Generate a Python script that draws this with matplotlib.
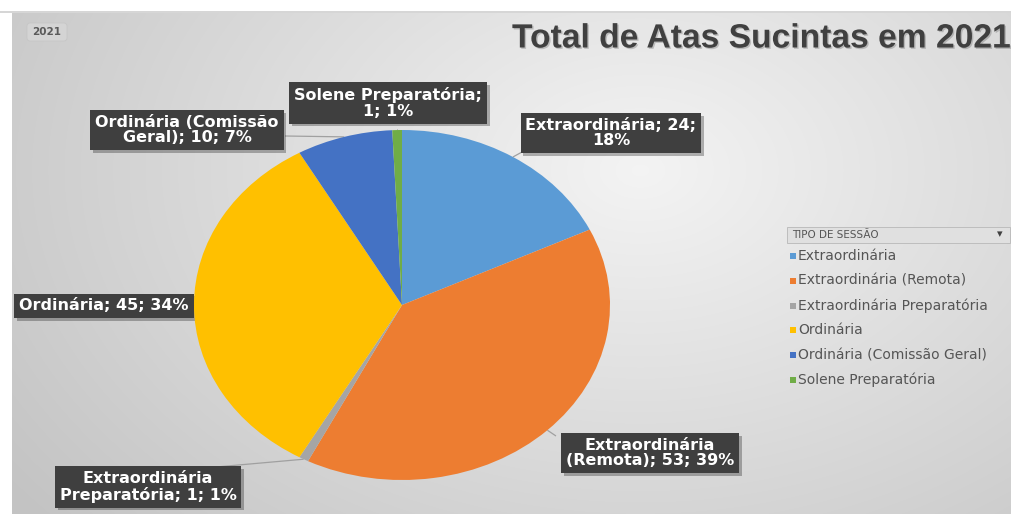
#!/usr/bin/env python3
# =============================================================================
# atas_sucintas_2021.py
# Pie chart (Excel look): total of "Atas Sucintas" in 2021 by session type
# =============================================================================

import numpy as np
import matplotlib.pyplot as plt
import matplotlib.patheffects as pe
from matplotlib.patches import Rectangle, FancyBboxPatch

plt.rcParams.update({
    "font.family": ["DejaVu Sans"],
})

#* ────────── DATA ────────────────────────────────────────────────────────────
session_types = [
    "Extraordinária",
    "Extraordinária (Remota)",
    "Extraordinária Preparatória",
    "Ordinária",
    "Ordinária (Comissão Geral)",
    "Solene Preparatória",
]
session_counts = [24, 53, 1, 45, 10, 1]
session_pcts   = [18, 39, 1, 34, 7, 1]        # as printed on the labels
legend_title   = "TIPO DE SESSÃO"
chart_title    = "Total de Atas Sucintas em 2021"
filter_button  = "2021"

#* ────────── STYLE / LAYOUT (pixels, origin top-left) ────────────────────────
W, H       = 1012, 514
COLORS     = ["#5B9BD5", "#ED7D31", "#A5A5A5", "#FFC000", "#4472C4", "#70AD47"]
PIE_CX, PIE_CY = 402, 305
PIE_RX, PIE_RY = 208, 175
# label box centre, leader anchor on the box, where to break the text
label_pos    = [(611, 133), (650, 453), (148, 487), (104, 306), (187, 130), (388, 103)]
label_anchor = [(522, 152), (556, 436), (216, 467), (197, 306), (285, 136), (398, 130)]
label_break  = [-1, 0, 0, None, 1, 1]
LABEL_BG   = "#3f3f3f"
TEXT_GRAY  = "#555555"


def wrap_label(text, idx):
    if idx is None:
        return text
    parts = text.split(" ")
    cut = idx if idx >= 0 else len(parts) - 1 + idx
    return " ".join(parts[:cut + 1]) + "\n" + " ".join(parts[cut + 1:])


def fx(px):
    return px / W


def fy(py):
    return 1 - py / H


# ────────── FIGURE + BACKGROUND ─────────────────────────────────────────────
fig = plt.figure(figsize=(W / 100, H / 100), dpi=100)
fig.patch.set_facecolor("white")

bg = fig.add_axes([0, 0, 1, 1])
bg.axis("off")

yy, xx = np.mgrid[12:H, 12:W]
d = np.sqrt(((xx - 640) / 620.0) ** 2 + ((yy - 170) / 430.0) ** 2)
shade = 0.955 - 0.15 * np.clip(d, 0, 1.25)
bg.imshow(np.dstack([shade] * 3), extent=(12, W, H, 12), aspect="auto",
          interpolation="bilinear", zorder=0)
bg.set_xlim(0, W)
bg.set_ylim(H, 0)
bg.add_patch(Rectangle((0, 11), W, 2, color="#d6d6d6", lw=0, zorder=2))

# filter button "2021"
bg.add_patch(FancyBboxPatch((27, 23), 40, 18, boxstyle="round,pad=0,rounding_size=3",
                            fc="#d4d4d4", ec="#c6c6c6", lw=0.6, zorder=2))
bg.text(47, 32, filter_button, fontsize=7.5, fontweight="bold", ha="center",
        va="center", color="#5a5a5a", zorder=3)

# title
bg.text(512, 39, chart_title, fontsize=24.2, fontweight="bold", ha="left",
        va="center", color="#404040", family=["Liberation Sans", "DejaVu Sans"],
        zorder=3,
        path_effects=[pe.SimplePatchShadow(offset=(1, -1), alpha=0.2), pe.Normal()])

# ────────── PIE ─────────────────────────────────────────────────────────────
ax = fig.add_axes([fx(PIE_CX - PIE_RX), fy(PIE_CY + PIE_RY),
                   2 * PIE_RX / W, 2 * PIE_RY / H])
ax.pie(session_counts, colors=COLORS, startangle=90, counterclock=False,
       radius=1, wedgeprops=dict(linewidth=0))
ax.set_aspect("auto")
ax.set_xlim(-1, 1)
ax.set_ylim(-1, 1)
ax.axis("off")

# ────────── DATA LABELS + LEADER LINES ──────────────────────────────────────
total = sum(session_counts)
cum = np.cumsum([0] + session_counts[:-1])
for i, (name, val, pct) in enumerate(zip(session_types, session_counts, session_pcts)):
    mid = np.deg2rad(90 - 360 * (cum[i] + val / 2) / total)
    ex = PIE_CX + PIE_RX * np.cos(mid)
    ey = PIE_CY - PIE_RY * np.sin(mid)
    ax_, ay_ = label_anchor[i]
    bg.plot([ex, ax_], [ey, ay_], color="#a0a0a0", lw=0.9, zorder=4,
            solid_capstyle="butt")

    txt = wrap_label(f"{name}; {val}; {pct}%", label_break[i])
    t = bg.text(*label_pos[i], txt, fontsize=11.5, fontweight="bold", color="white",
                ha="center", va="center", linespacing=1.05, zorder=5,
                bbox=dict(boxstyle="square,pad=0.3", fc=LABEL_BG, ec="none"))
    t.get_bbox_patch().set_path_effects(
        [pe.SimplePatchShadow(offset=(2, -2), alpha=0.3), pe.Normal()])

# ────────── LEGEND (Excel pivot style) ──────────────────────────────────────
bg.add_patch(Rectangle((787, 227), 223, 16, fc="#e0e0e0", ec="#bdbdbd", lw=0.7, zorder=3))
bg.text(792, 235.5, legend_title, fontsize=7.5, color=TEXT_GRAY, ha="left",
        va="center", zorder=4)
bg.text(1000, 234.5, "▾", fontsize=8, color="#404040", ha="center", va="center", zorder=4)

for i, name in enumerate(session_types):
    y = 256 + i * 24.8
    bg.add_patch(Rectangle((790, y - 3), 6, 6, fc=COLORS[i], ec="none", zorder=4))
    bg.text(798, y, name, fontsize=10, color=TEXT_GRAY, ha="left", va="center", zorder=4)

fig.savefig("out.png", dpi=100)
